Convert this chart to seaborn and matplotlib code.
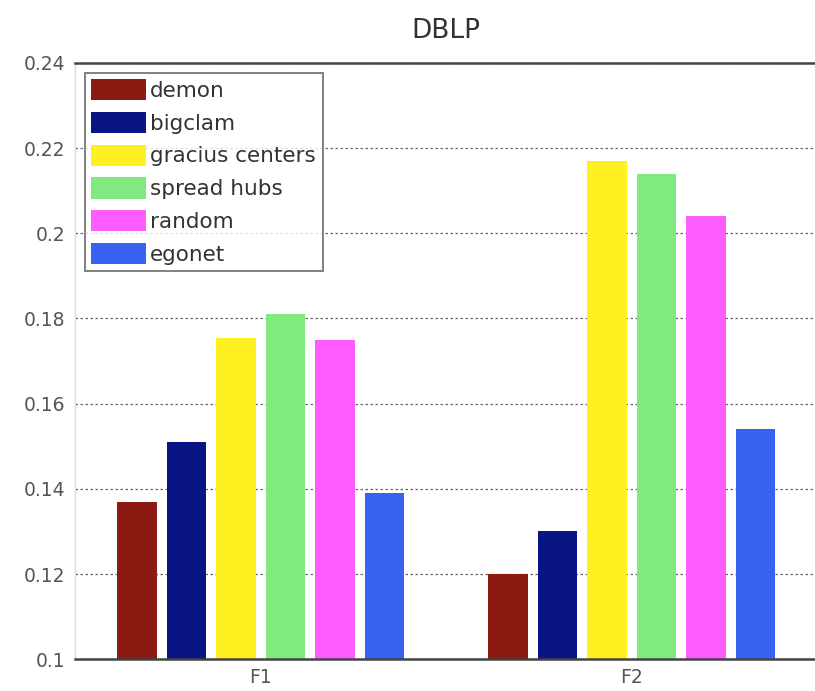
import matplotlib
matplotlib.use("Agg")
import matplotlib.pyplot as plt
import seaborn as sns
import pandas as pd

# Measures and methods
measures = ["F1", "F2"]
methods = ["demon", "bigclam", "gracius centers", "spread hubs", "random", "egonet"]

# Score of each method, per measure
demon = [0.137, 0.120]
bigclam = [0.151, 0.130]
gracius_centers = [0.1755, 0.217]
spread_hubs = [0.181, 0.214]
random_sel = [0.175, 0.204]
egonet = [0.139, 0.154]

colors = ["#8c1a12", "#0a1585", "#fff021", "#80ea80", "#ff5cff", "#3a62f2"]

yticks = [0.1, 0.12, 0.14, 0.16, 0.18, 0.2, 0.22, 0.24]
ytick_labels = ["0.1", "0.12", "0.14", "0.16", "0.18", "0.2", "0.22", "0.24"]

series = [demon, bigclam, gracius_centers, spread_hubs, random_sel, egonet]
rows = []
for name, vals in zip(methods, series):
    for m, v in zip(measures, vals):
        rows.append({"measure": m, "method": name, "score": v})
df = pd.DataFrame(rows)

sns.set_style("white")
plt.rcParams["font.family"] = ["DejaVu Sans"]

fig = plt.figure(figsize=(8.15, 6.91), dpi=100)
ax = fig.add_axes([0.092, 0.046, 0.911, 0.863])

sns.barplot(data=df, x="measure", y="score", hue="method", order=measures,
            hue_order=methods, palette=colors, width=0.8, gap=0.2,
            linewidth=0, ax=ax, saturation=1)

ax.set_xlim(-0.5, 1.5)
ax.set_ylim(0.1, 0.24)
ax.set_yticks(yticks)
ax.set_yticklabels(ytick_labels)
ax.set_xlabel("")
ax.set_ylabel("")
ax.set_title("DBLP", fontsize=19, color="#333333", pad=18)

ax.grid(axis="y", linestyle=(0, (2, 2)), color="#666666", linewidth=0.9)
ax.set_axisbelow(True)
ax.tick_params(axis="both", direction="out", length=4, width=0.8,
               labelsize=13.5, colors="#aaaaaa", labelcolor="#555555", pad=3)
ax.tick_params(axis="x", length=0, pad=6)
for side in ["top", "bottom"]:
    ax.spines[side].set_color("#444444")
    ax.spines[side].set_linewidth(1.8)
for side in ["left", "right"]:
    ax.spines[side].set_color("#dddddd")
    ax.spines[side].set_linewidth(1.0)

leg = ax.legend(loc="upper left", bbox_to_anchor=(0.0, 1.0), frameon=True,
                fancybox=False, edgecolor="#555555", fontsize=15.5,
                handlelength=2.55, handleheight=1.15, handletextpad=0.2,
                labelspacing=0.5, borderpad=0.3, borderaxespad=0.45)
leg.get_frame().set_linewidth(1.3)
for t in leg.get_texts():
    t.set_color("#333333")

fig.savefig("out.png", dpi=100)
